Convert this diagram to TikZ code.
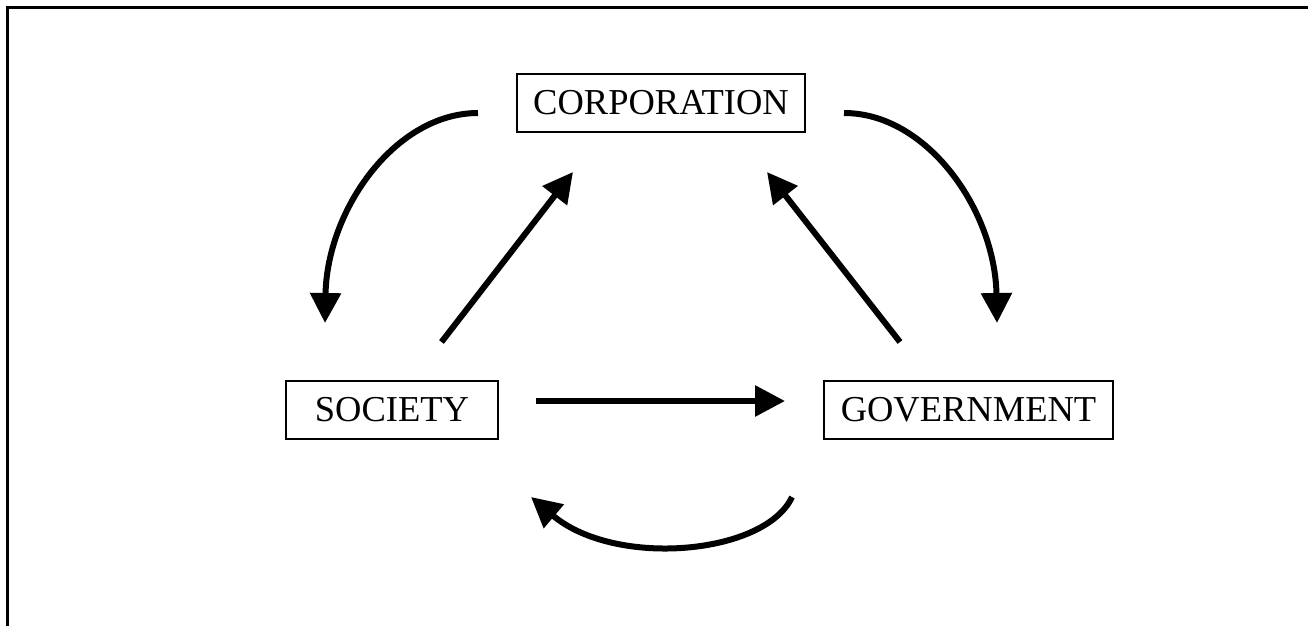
\documentclass[tikz,border=0pt]{standalone}
\usepackage{fontspec}
\setmainfont{Liberation Serif}
\usetikzlibrary{arrows.meta}
\begin{document}
\begin{tikzpicture}[x=1pt,y=-1pt,
  entity/.style={draw, line width=1.6pt, inner sep=0pt, font=\fontsize{36.5}{40}\selectfont, minimum height=58pt},
  flow/.style={line width=6pt, -{Triangle[length=30pt,width=30pt]}},
  frameline/.style={line width=3pt}]
\useasboundingbox (0,0) rectangle (1308,625);
\fill[white] (0,0) rectangle (1308,625);
% frame (top and left edges only)
\coordinate (fb) at (7,626);
\coordinate (fc) at (7,7);
\coordinate (fr) at (1309,7);
\draw[frameline] (fb) -- (fc) -- (fr);
% entities
\node[entity, minimum width=288pt] (corp) at (661,103) {CORPORATION};
\node[entity, minimum width=212pt] (soc) at (392,410) {SOCIETY};
\node[entity, minimum width=289pt] (gov) at (968.5,410) {GOVERNMENT};
% arrow end points
\coordinate (a1s) at (478,113);
\coordinate (a1e) at (325,323);
\coordinate (a2s) at (441.5,342);
\coordinate (a2e) at (573,172);
\coordinate (a3s) at (900,342);
\coordinate (a3e) at (767,172);
\coordinate (a4s) at (844,113);
\coordinate (a4e) at (997,323);
\coordinate (a5s) at (536,401);
\coordinate (a5e) at (785,401);
\coordinate (a6s) at (792,497);
\coordinate (a6e) at (531,497);
% connectors
\draw[flow] (a1s) .. controls (395,113) and (327,210) .. (a1e);
\draw[flow] (a2s) -- (a2e);
\draw[flow] (a3s) -- (a3e);
\draw[flow] (a4s) .. controls (927,113) and (995,210) .. (a4e);
\draw[flow] (a5s) -- (a5e);
\draw[flow] (a6s) .. controls (765,555) and (615,568) .. (a6e);
\end{tikzpicture}
\end{document}
